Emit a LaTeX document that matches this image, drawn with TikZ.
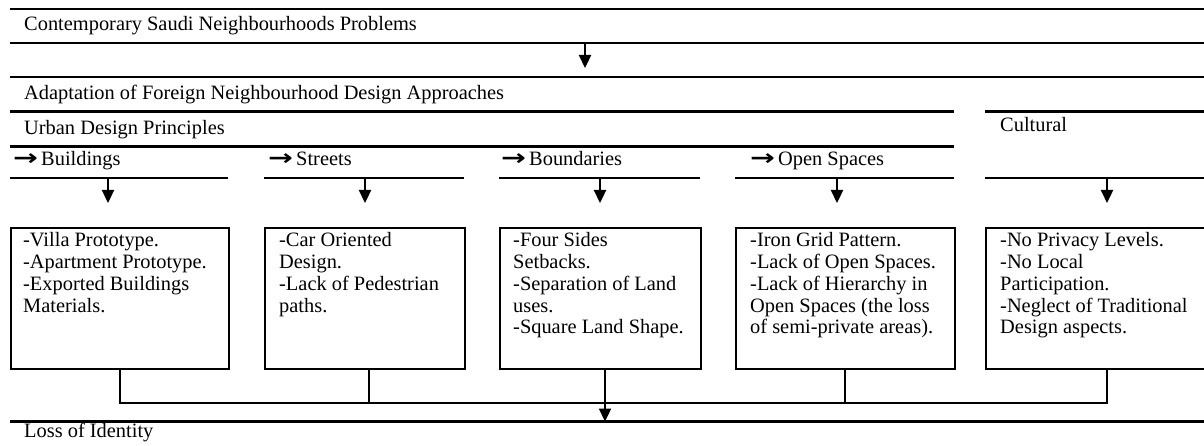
\documentclass[tikz,border=0pt]{standalone}
\usepackage{fontspec}
\setmainfont{Liberation Serif}
\newfontfamily\arrowfont{DejaVu Sans}
\newcommand{\rarr}{\makebox[28pt][l]{\arrowfont\bfseries\fontsize{22}{22}\selectfont\scalebox{1.35}[1]{→}}}
\usetikzlibrary{arrows.meta}
\begin{document}
\begin{tikzpicture}[x=1pt,y=-1pt,
  hline/.style={line width=2.5pt},
  conn/.style={line width=2.3pt},
  arr/.style={line width=2.3pt,-{Triangle[width=12pt,length=13pt]}},
  lbl/.style={anchor=base west,inner sep=0pt,font=\fontsize{20.4}{21.7}\selectfont},
  boxtext/.style={anchor=north west,inner sep=0pt,align=left,font=\fontsize{20.4}{21.7}\selectfont},
  box/.style={draw,line width=2.3pt,anchor=north west,inner sep=0pt,minimum height=141pt}]
\useasboundingbox (0,0) rectangle (1204,446);
% horizontal table lines
\draw[hline] (10,9) -- (1208,9);
\draw[hline] (10,43) -- (1208,43);
\draw[hline] (10,77) -- (1208,77);
\draw[hline] (10,111.5) -- (954,111.5);
\draw[hline] (985,111.5) -- (1208,111.5);
\draw[hline] (10,146.5) -- (954,146.5);
\draw[hline] (10,178) -- (228,178);
\draw[hline] (264,178) -- (464,178);
\draw[hline] (499,178) -- (700,178);
\draw[hline] (735,178) -- (954,178);
\draw[hline] (985,178) -- (1208,178);
\draw[hline] (10,421.5) -- (1208,421.5);
% labels
\node[lbl] (title) at (24,30.5) {Contemporary Saudi Neighbourhoods Problems};
\node[lbl] (adapt) at (24,100) {Adaptation of Foreign Neighbourhood Design Approaches};
\node[lbl] (urban) at (24,135) {Urban Design Principles};
\node[lbl] (cult) at (1000,132) {Cultural};
\node[lbl] (bld) at (13,166) {\rarr Buildings};
\node[lbl] (str) at (268,166) {\rarr Streets};
\node[lbl] (bnd) at (501,166) {\rarr Boundaries};
\node[lbl] (ops) at (750,166) {\rarr Open Spaces};
\node[lbl] (loss) at (24,437) {Loss of Identity};
% boxes
\node[box,minimum width=218pt] (b1) at (10,227) {};
\node[box,minimum width=200pt] (b2) at (264,227) {};
\node[box,minimum width=201pt] (b3) at (499,227) {};
\node[box,minimum width=219pt] (b4) at (735,227) {};
\node[box,minimum width=225pt] (b5) at (985,227) {};
\node[boxtext] (t1) at ([xshift=13pt,yshift=-4.6pt]b1.north west) {\strut-Villa Prototype.\\\strut-Apartment Prototype.\\\strut-Exported Buildings\\\strut Materials.};
\node[boxtext] (t2) at ([xshift=15pt,yshift=-4.6pt]b2.north west) {\strut-Car Oriented\\\strut Design.\\\strut-Lack of Pedestrian\\\strut paths.};
\node[boxtext] (t3) at ([xshift=14pt,yshift=-4.6pt]b3.north west) {\strut-Four Sides\\\strut Setbacks.\\\strut-Separation of Land\\\strut uses.\\\strut-Square Land Shape.};
\node[boxtext] (t4) at ([xshift=15pt,yshift=-4.6pt]b4.north west) {\strut-Iron Grid Pattern.\\\strut-Lack of Open Spaces.\\\strut-Lack of Hierarchy in\\\strut Open Spaces (the loss\\\strut of semi-private areas).};
\node[boxtext] (t5) at ([xshift=15pt,yshift=-4.6pt]b5.north west) {\strut-No Privacy Levels.\\\strut-No Local\\\strut Participation.\\\strut-Neglect of Traditional\\\strut Design aspects.};
% arrows
\coordinate (a0) at (585,43);
\draw[arr] (a0) -- ++(0,25);
\coordinate (a1) at (108,178);
\coordinate (a2) at (365,178);
\coordinate (a3) at (600,178);
\coordinate (a4) at (837,178);
\coordinate (a5) at (1107,178);
\foreach \c in {a1,a2,a3,a4,a5} \draw[arr] (\c) -- ++(0,25);
% bottom connectors
\coordinate (j) at (605,403);
\coordinate (bl) at (605,421.5);
\draw[conn] (b1.south -| 120,0) -- (120,403) -- (1107,403) -- (b5.south -| 1107,0);
\draw[conn] (b2.south -| 369,0) -- (369,403);
\draw[conn] (b4.south -| 845,0) -- (845,403);
\draw[arr] (b3.south -| j) -- (bl);
\end{tikzpicture}
\end{document}
